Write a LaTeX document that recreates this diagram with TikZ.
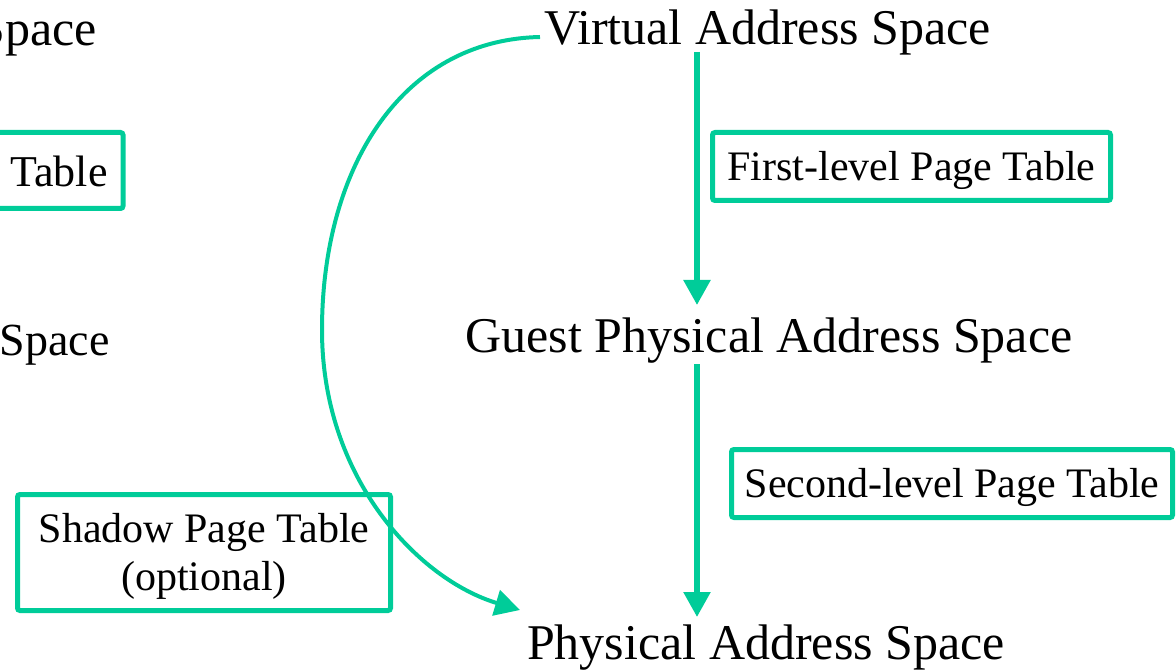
\documentclass[tikz,border=0pt]{standalone}
\usepackage{fontspec}
\setmainfont{Liberation Serif}
\usetikzlibrary{arrows.meta}
\definecolor{grn}{HTML}{00CC99}
\begin{document}
\begin{tikzpicture}[x=1pt,y=-1pt,
  big/.style={font=\fontsize{50}{60}\selectfont, inner sep=0pt},
  pbox/.style={draw=grn, line width=5pt, rounded corners=2.5pt,
    font=\fontsize{42}{48}\selectfont, inner sep=0pt, align=center},
  conn/.style={draw=grn, line width=5.5pt, -{Triangle[width=26pt,length=25pt]}},
  curv/.style={draw=grn, line width=4pt, -{Triangle[width=26pt,length=25pt]}}]
\useasboundingbox (0,0) rectangle (1176,671);
\clip (0,0) rectangle (1176,671);

% partially visible left diagram
\node[big, anchor=base east] (lva) at (97,46) {Virtual Address Space};
\node[pbox, anchor=east, font=\fontsize{44}{52}\selectfont, inner xsep=15.5pt,
  minimum height=76pt, text height=33pt, text depth=0pt] (lpt) at (125.5,170.5) {Page Table};
\node[big, font=\fontsize{46}{55}\selectfont, anchor=base east] (lpa) at (110,355) {Physical Address Space};

% main diagram
\node[big, anchor=base] (va) at (767.5,45) {Virtual Address Space};
\node[big, anchor=base] (gp) at (769,352) {Guest Physical Address Space};
\node[big, anchor=base] (pa) at (766,659) {Physical Address Space};

\node[pbox, minimum width=398pt, minimum height=68pt, text height=29pt, text depth=0pt]
  (flpt) at (911.5,166.5) {First-level Page Table};
\node[pbox, minimum width=441pt, minimum height=68pt, text height=27pt, text depth=0pt]
  (slpt) at (952,483.5) {Second-level Page Table};
\node[pbox, minimum width=373pt, minimum height=116pt] (spt) at (204,552.5)
  {\rule{0pt}{37pt}Shadow Page Table\\(optional)};

\coordinate (a1s) at (697,52);
\coordinate (a1e) at (697,305);
\coordinate (a2s) at (697,364);
\coordinate (a2e) at (697,617);
\coordinate (cs) at (540,37);
\coordinate (cm) at (322,330);
\coordinate (ce) at (520,610);

\draw[conn] (a1s) -- (a1e);
\draw[conn] (a2s) -- (a2e);
\draw[curv] (cs) .. controls (400,40) and (322,170) .. (cm)
  .. controls (322,480) and (420,580) .. (ce);
\end{tikzpicture}
\end{document}
